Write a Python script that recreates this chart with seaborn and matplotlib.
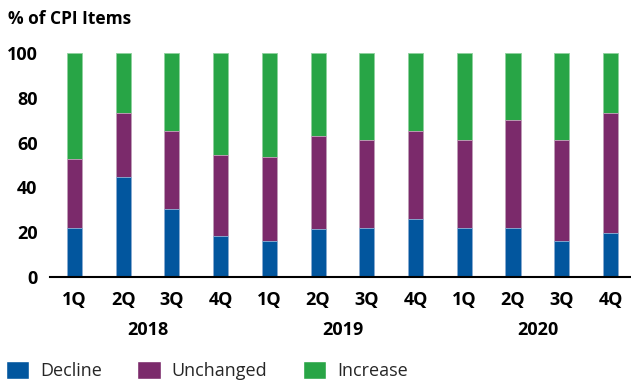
import matplotlib
matplotlib.use("Agg")
import matplotlib.pyplot as plt
import matplotlib.transforms as mtransforms
from matplotlib.patches import Patch
import numpy as np
import pandas as pd
import seaborn as sns

# Share of CPI items by direction of price change, per quarter
quarters = ["1Q", "2Q", "3Q", "4Q"] * 3
years = ["2018", "2019", "2020"]
decline = [22.0, 44.6, 30.5, 18.3, 15.9, 21.3, 22.0, 25.7, 22.0, 22.0, 15.9, 19.5]
unchanged = [30.6, 28.9, 34.5, 36.3, 37.5, 41.9, 39.4, 39.3, 39.4, 48.0, 45.5, 53.6]
increase = [round(100 - d - u, 1) for d, u in zip(decline, unchanged)]

BLUE = "#02569E"
PURPLE = "#7B2A6B"
GREEN = "#28A546"

sns.set_theme(style="white")
plt.rcParams["font.family"] = ["Open Sans", "DejaVu Sans"]

keys = [f"{years[i // 4]} {q}" for i, q in enumerate(quarters)]
df = pd.DataFrame({
    "key": keys,
    "decline": decline,
    "unchanged": unchanged,
    "increase": increase,
})
df["cum_unchanged"] = df["decline"] + df["unchanged"]
df["cum_increase"] = df["cum_unchanged"] + df["increase"]

fig = plt.figure(figsize=(6.31, 3.80), dpi=100)
ax = fig.add_axes([50 / 631, 103.3 / 380, 581 / 631, 223.4 / 380])

bar_kw = dict(order=keys, width=0.31, linewidth=0.6, ax=ax, errorbar=None,
              saturation=1)
sns.barplot(data=df, x="key", y="cum_increase", color=GREEN,
            edgecolor="#8fd19e", **bar_kw)
sns.barplot(data=df, x="key", y="cum_unchanged", color=PURPLE,
            edgecolor="#c9a3c0", **bar_kw)
sns.barplot(data=df, x="key", y="decline", color=BLUE,
            edgecolor="#8fb4d8", **bar_kw)

ax.set_xlim(-0.5, 11.42)
ax.set_ylim(0, 100)
ax.set_yticks([0, 20, 40, 60, 80, 100])
ax.set_xticks(range(len(keys)))
ax.set_xticklabels(quarters)
ax.set_xlabel("")
ax.set_ylabel("")

for s in ["top", "right", "left"]:
    ax.spines[s].set_visible(False)
ax.spines["bottom"].set_color("black")
ax.spines["bottom"].set_linewidth(1.5)

ax.tick_params(axis="y", length=0, pad=9, labelsize=13, labelcolor="black")
ax.tick_params(axis="x", length=0, pad=10.5, labelsize=13, labelcolor="black")
for lbl in ax.get_xticklabels() + ax.get_yticklabels():
    lbl.set_fontweight("bold")

# Year labels centred under each group of four quarters
trans = mtransforms.blended_transform_factory(ax.transData, fig.transFigure)
for i, yr in enumerate(years):
    ax.text(i * 4 + 1.5, 1 - 330 / 380, yr, transform=trans, ha="center",
            va="center", fontsize=13, fontweight="bold", color="black")

fig.text(8 / 631, 1 - 19 / 380, "% of CPI Items", ha="left", va="center",
         fontsize=12.5, fontweight="bold", color="black")

handles = [Patch(facecolor=BLUE, label="Decline"),
           Patch(facecolor=PURPLE, label="Unchanged"),
           Patch(facecolor=GREEN, label="Increase")]
fig.legend(handles=handles, loc="lower left", bbox_to_anchor=(6 / 631, 0.0),
           ncol=3, frameon=False, fontsize=13, handlelength=1.3,
           handleheight=1.1, handletextpad=0.6, columnspacing=1.95,
           borderaxespad=0.0, borderpad=0.0)

fig.savefig("out.png", dpi=100)
